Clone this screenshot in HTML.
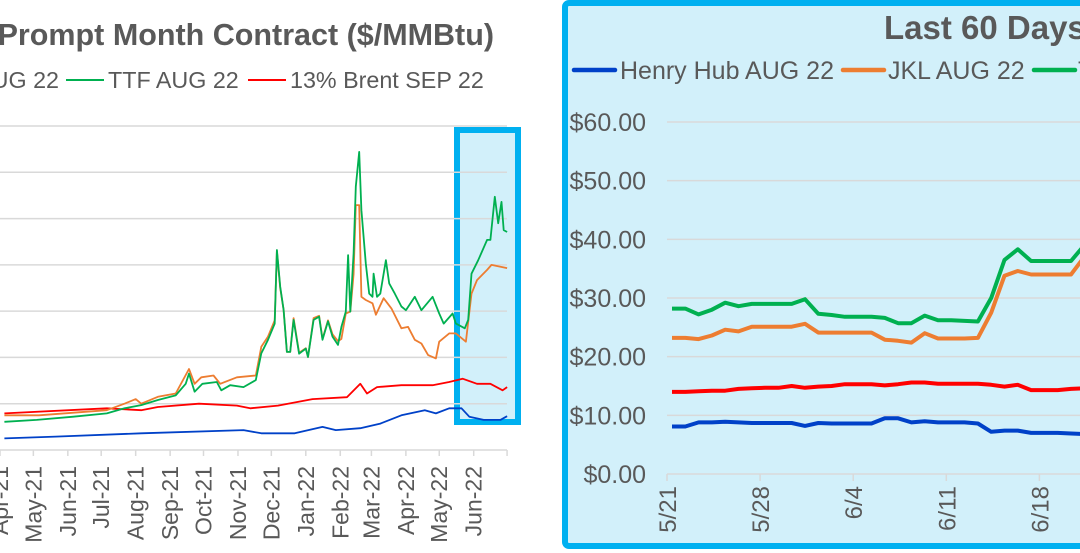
<!DOCTYPE html>
<html><head><meta charset="utf-8"><style>
html,body{margin:0;padding:0;background:#fff;width:1080px;height:553px;overflow:hidden}
svg{display:block;font-family:"Liberation Sans",Arial,sans-serif}
</style></head><body>
<svg id="chart" width="1080" height="553" viewBox="0 0 1080 553" xmlns="http://www.w3.org/2000/svg">
<g id="left">
<text x="494" y="45" text-anchor="end" font-size="30.5" font-weight="bold" fill="#595959">Prompt Month Contract ($/MMBtu)</text>
<g font-size="23.3" fill="#595959">
<line x1="-60" y1="80" x2="-20" y2="80" stroke="#ED7D31" stroke-width="2"/>
<text x="59" y="88" text-anchor="end">JKL AUG 22</text>
<line x1="66" y1="80" x2="104" y2="80" stroke="#00B050" stroke-width="2"/>
<text x="108" y="88">TTF AUG 22</text>
<line x1="248" y1="80" x2="286" y2="80" stroke="#FF0000" stroke-width="2"/>
<text x="290" y="88">13% Brent SEP 22</text>
</g>
<rect x="457" y="130" width="61" height="292" fill="#D2F0FA" stroke="#00B0F0" stroke-width="6"/>
<g id="lgrid"></g><g id="lx"></g><g id="lseries"></g>
</g>
<g id="right">
<rect x="565" y="3" width="530" height="543" rx="4" fill="#D2F0FA" stroke="#00B0F0" stroke-width="6"/>
<text x="884" y="39" font-size="33" font-weight="bold" fill="#595959">Last 60 Days</text>
<g font-size="25" fill="#595959">
<line x1="574" y1="70" x2="615" y2="70" stroke="#0041C8" stroke-width="4.5" stroke-linecap="round"/>
<text x="620" y="79">Henry Hub AUG 22</text>
<line x1="843" y1="70" x2="884" y2="70" stroke="#ED7D31" stroke-width="4.5" stroke-linecap="round"/>
<text x="888" y="79">JKL AUG 22</text>
<line x1="1034" y1="70" x2="1075" y2="70" stroke="#00B050" stroke-width="4.5" stroke-linecap="round"/>
<text x="1078" y="79">TTF AUG 22</text>
</g>
<g id="rgrid"></g><g id="rx"></g><g id="rseries"></g>
</g>
</svg>
<script>
// ---- Left chart data (days since 2021-04-01) ----
const leftMonths = ["Apr-21","May-21","Jun-21","Jul-21","Aug-21","Sep-21","Oct-21","Nov-21","Dec-21","Jan-22","Feb-22","Mar-22","Apr-22","May-22","Jun-22"];
const leftMonthDays = [0,30,61,91,122,153,183,214,244,275,306,334,365,395,426];
const leftYTicks = [0,10,20,30,40,50,60,70];
const ttfDays = [4,33,66,96,112,127,142,158,167,170,175,182,195,199,207,219,230,235,241,247,249,252,255,258,261,264,269,275,277,282,287,290,295,299,304,307,311,313,315,318,320,323,325,329,332,335,336,339,342,347,350,355,361,365,373,379,389,395,399,407,410,418,421,424,430,438,441,445,448,451,453,456];
const ttfVals = [6.1,6.5,7.2,7.9,9.0,9.7,10.8,11.8,14.3,16.5,12.6,14.3,14.7,12.9,14,13.6,15.1,20.9,23.8,27.3,43.2,35.3,30.3,21.2,21.2,28.1,20.8,21.9,20.1,28.1,28.8,23.8,27.8,24.5,22.7,26.6,29.9,42.1,29.9,42.5,56.9,64.4,51.8,40.3,33.8,33.1,38.1,33.1,33.8,41,36,33.8,31,30.2,33.1,30.2,33.1,29.5,27.3,29.5,27.3,26.3,28.1,38.1,41,45.4,45.4,54.7,49,53.6,47.5,47.1];
const jklDays = [4,35,96,112,122,127,142,158,170,175,181,192,198,213,230,235,241,247,249,252,255,258,261,264,269,275,277,282,287,290,295,299,304,307,311,315,318,320,323,325,329,335,338,345,352,361,367,373,379,385,392,395,404,410,419,424,429,438,442,456];
const jklVals = [7.5,7.5,8.6,10,11,10,11.5,12.2,17.5,14.3,15.7,16.1,14.3,15.7,16.1,22.3,24.5,28,43,35,30.3,21.2,21.2,28.5,21,22,20.1,28.5,29,24,28,25,23.5,24,29.5,29.9,38,52.9,52.9,33.1,32.4,31.7,29.2,32.8,30.6,26.3,26.6,23.8,23,20.5,19.8,23.4,25.2,25.2,23.4,33.8,36.7,38.9,40,39.3];
const brentDays = [4,96,127,142,179,213,225,250,281,312,324,330,339,361,389,404,416,429,441,452,456];
const brentVals = [7.9,9.0,8.6,9.3,10,9.6,9,9.6,11,11.4,14.3,12.2,13.6,14,14,14.7,15.4,14.3,14.3,12.9,13.6];
const hhDays = [4,50,127,219,235,265,290,302,324,342,361,382,392,404,415,422,435,450,456];
const hhVals = [2.5,2.9,3.6,4.3,3.6,3.6,5.0,4.3,4.7,5.7,7.5,8.6,7.9,9,9,7.2,6.5,6.5,7.3];

// ---- Right chart data (daily from 5/21) ----
const rightDateLabels = ["5/21","5/28","6/4","6/11","6/18"];
const rightLabelIdx = [0,7,14,21,28];
const rightYTicks = [0,10,20,30,40,50,60];
const rTTF = [28.2,28.2,27.2,28,29.2,28.6,29,29,29,29,29.8,27.3,27.1,26.8,26.8,26.8,26.6,25.7,25.7,27,26.2,26.2,26.1,26,30,36.5,38.3,36.3,36.3,36.3,36.3,39];
const rJKL = [23.2,23.2,23,23.6,24.6,24.3,25.1,25.1,25.1,25.1,25.6,24.1,24.1,24.1,24.1,24.1,22.9,22.7,22.4,24,23.1,23.1,23.1,23.2,27.5,33.8,34.6,34,34,34,34,37];
const rBrent = [14,14,14.1,14.2,14.2,14.5,14.6,14.7,14.7,15,14.7,14.9,15,15.3,15.3,15.3,15.1,15.3,15.6,15.6,15.4,15.4,15.4,15.4,15.2,14.9,15.2,14.3,14.3,14.3,14.5,14.6];
const rHH = [8.1,8.1,8.8,8.8,8.9,8.8,8.7,8.7,8.7,8.7,8.2,8.7,8.6,8.6,8.6,8.6,9.5,9.5,8.8,9.0,8.8,8.8,8.8,8.6,7.2,7.4,7.4,7.0,7.0,7.0,6.9,6.8];

const NS="http://www.w3.org/2000/svg";
function mk(tag,attrs,parent){const e=document.createElementNS(NS,tag);for(const k in attrs)e.setAttribute(k,attrs[k]);parent.appendChild(e);return e;}
const lx = d => d*1.112;
const ly = v => 450 - v*(324/70);
const rx = i => 672 + i*13.3;
const rxt = i => 667 + i*13.3;
const ry = v => 474 - v*(352/60);

const lgrid=document.getElementById('lgrid');
leftYTicks.forEach(v=>{
  const l=mk('line',{x1:0,x2:507,y1:ly(v),y2:ly(v),stroke:'#D9D9D9','stroke-width':1.5},lgrid);
  
  
});
const lxg=document.getElementById('lx');
leftMonthDays.concat([456]).forEach((d,i)=>{
  const t=mk('line',{x1:lx(d),x2:lx(d),y1:450,y2:456,stroke:'#D9D9D9','stroke-width':1.5},lxg);
  
  
});
leftMonths.forEach((m,i)=>{
  const x=lx(leftMonthDays[i])+8;
  const t=mk('text',{x:x,y:466,transform:`rotate(-90 ${x} 466)`,'text-anchor':'end','font-size':23,fill:'#595959'},lxg);
  t.textContent=m;
  
  
});
const ls=document.getElementById('lseries');
function lline(days,vals,color,name){
  const p=mk('polyline',{points:days.map((d,i)=>lx(d).toFixed(1)+','+ly(vals[i]).toFixed(1)).join(' '),fill:'none',stroke:color,'stroke-width':1.8,'stroke-linejoin':'round'},ls);
  
  
}
lline(brentDays,brentVals,'#FF0000','left-brent-line');
lline(hhDays,hhVals,'#0041C8','left-henry-hub-line');
lline(jklDays,jklVals,'#ED7D31','left-jkl-line');
lline(ttfDays,ttfVals,'#00B050','left-ttf-line');

const rgrid=document.getElementById('rgrid');
rightYTicks.forEach(v=>{
  const l=mk('line',{x1:667,x2:1080,y1:ry(v),y2:ry(v),stroke:'#D9D9D9','stroke-width':1.5},rgrid);
  
  
  const t=mk('text',{x:646,y:ry(v)+9,'text-anchor':'end','font-size':25,fill:'#595959'},rgrid);
  t.textContent='$'+v.toFixed(2);
  
  
});
const rxg=document.getElementById('rx');
rightLabelIdx.forEach((idx,i)=>{
  const x=rxt(idx);
  const tk=mk('line',{x1:x,x2:x,y1:474,y2:481,stroke:'#D9D9D9','stroke-width':1.5},rxg);
  
  
  const t=mk('text',{x:x+9,y:486,transform:`rotate(-90 ${x+9} 486)`,'text-anchor':'end','font-size':24,fill:'#595959'},rxg);
  t.textContent=rightDateLabels[i];
  
  
});
const rs=document.getElementById('rseries');
function rline(vals,color,name){
  const p=mk('polyline',{points:vals.map((v,i)=>rx(i).toFixed(1)+','+ry(v).toFixed(1)).join(' '),fill:'none',stroke:color,'stroke-width':4,'stroke-linejoin':'round'},rs);
  
  
}
rline(rHH,'#0041C8','right-henry-hub-line');
rline(rBrent,'#FF0000','right-brent-line');
rline(rJKL,'#ED7D31','right-jkl-line');
rline(rTTF,'#00B050','right-ttf-line');
</script>
</body></html>
